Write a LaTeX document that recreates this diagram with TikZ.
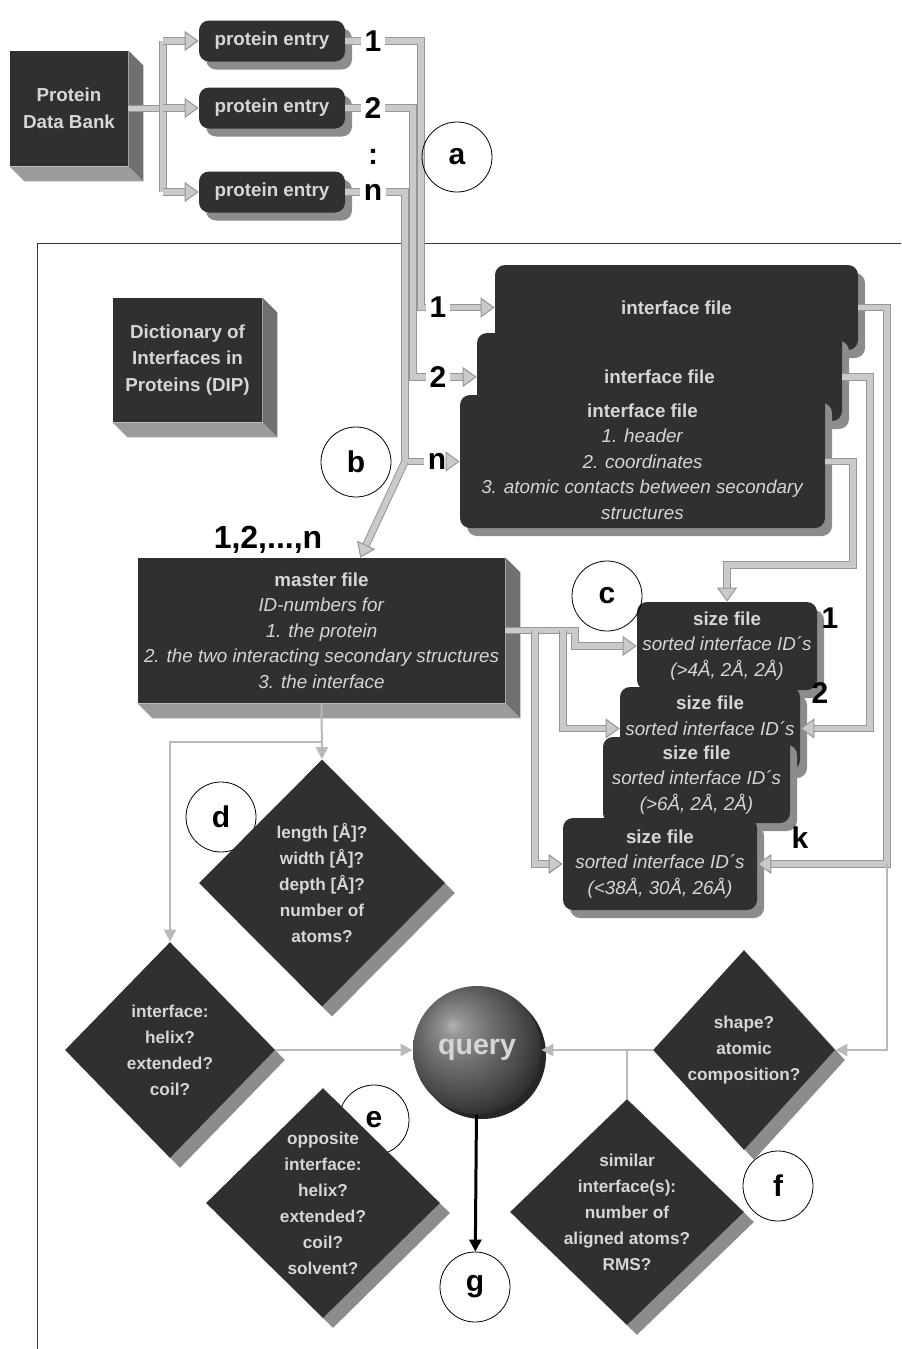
\documentclass[tikz,border=0pt]{standalone}
\usepackage{fontspec}
\setmainfont{Liberation Sans}
\usetikzlibrary{positioning, arrows.meta, calc, shapes.geometric, shadows}
\definecolor{dipDark}{RGB}{48,48,48}
\definecolor{dipText}{RGB}{214,214,214}
\definecolor{dipSide}{RGB}{140,140,140}
\definecolor{dipFace}{RGB}{112,112,112}
\definecolor{dipBase}{RGB}{155,155,155}
\definecolor{pipeFill}{RGB}{202,202,202}
\definecolor{pipeEdge}{RGB}{150,150,150}
\definecolor{linkGray}{RGB}{185,185,185}
\pgfdeclareradialshading{querysphere}{\pgfqpoint{-10bp}{10bp}}{color(0bp)=(black!30); color(4bp)=(black!42); color(14bp)=(black!58); color(24bp)=(black!72); color(32bp)=(black!85); color(50bp)=(black)}

\begin{document}
\begin{tikzpicture}[
    x=0.5pt, y=-0.5pt,
    block/.style={rectangle, fill=dipDark, text=dipText, inner sep=0pt, align=center, font=\fontsize{9.4}{13.3}\selectfont\bfseries},
    file/.style={rectangle, rounded corners=5pt, fill=dipDark, text=dipText, inner sep=0pt, align=center, font=\fontsize{9.4}{12.7}\selectfont, drop shadow={shadow xshift=3.5pt, shadow yshift=-4pt, fill=dipSide, opacity=1}},
    question/.style={diamond, fill=dipDark, text=dipText, inner sep=-8pt, align=center, font=\fontsize{8.6}{13}\selectfont\bfseries, drop shadow={shadow xshift=5pt, shadow yshift=-5pt, fill=dipSide, opacity=1}},
    tag/.style={circle, draw=black, line width=0.4pt, minimum size=35pt, inner sep=0pt, font=\fontsize{15}{15}\selectfont\bfseries},
    num/.style={inner sep=1.5pt, font=\fontsize{15}{15}\selectfont\bfseries},
    pipe/.style={draw=pipeEdge, double=pipeFill, double distance=2.8pt, line width=0.5pt},
    pipearrow/.style={pipe, -{Triangle[width=10pt, length=7pt, fill=pipeFill]}},
    link/.style={draw=linkGray, line width=1pt, -{Triangle[width=6pt, length=6pt]}},
    frame/.style={draw=black!80, line width=0.5pt}
]
\useasboundingbox[fill=white] (0,0) rectangle (901,1349);

% --- FRAME OF THE DIP PART ---
\draw[frame] (37,1349) |- (901,243);

% --- PROTEIN DATA BANK AND ENTRIES ---
\node[block, minimum width=59pt, minimum height=57.5pt] (pdb) at (69,108.5) {Protein\\Data Bank};
\node[file, minimum width=73pt, minimum height=20.5pt] (entry1) at (272,41) {\textbf{protein entry}};
\node[file, minimum width=73pt, minimum height=20.5pt] (entry2) at (272,108) {\textbf{protein entry}};
\node[file, minimum width=73pt, minimum height=20.5pt] (entry3) at (272,192) {\textbf{protein entry}};

\node[num] (num_e1) at (373,41) {1};
\node[num] (num_e2) at (373,108) {2};
\node[num] (num_dots) at (373,157) {:};
\node[num] (num_en) at (373,192) {n};

% --- DIP BLOCK ---
\node[block, minimum width=74.5pt, minimum height=62pt] (dip) at (187.5,360) {Dictionary of\\Interfaces in\\Proteins (DIP)};

% --- INTERFACE FILES ---
\node[file, minimum width=181.5pt, minimum height=42.5pt] (if1) at (676.5,307.5) {\textbf{interface file}};
\node[file, minimum width=182.5pt, minimum height=44pt] (if2) at (659.5,377) {\textbf{interface file}};
\node[file, minimum width=182.5pt, minimum height=66.5pt] (ifn) at (642.5,461.5) {\textbf{interface file}\\ \textit{1. header}\\ \textit{2. coordinates}\\ \textit{3. atomic contacts between secondary}\\ \textit{structures}};

\node[num] (num_i1) at (438,307.5) {1};
\node[num] (num_i2) at (438,377) {2};
\node[num] (num_in) at (437,461.5) {n};

% --- MASTER FILE ---
\node[block, minimum width=183.5pt, minimum height=72.5pt, font=\fontsize{9.4}{12.7}\selectfont] (master) at (321.5,630.5) {\textbf{master file}\\ \textit{ID-numbers for}\\ \textit{1. the protein}\\ \textit{2. the two interacting secondary structures}\\ \textit{3. the interface}};
\node[num, font=\fontsize{16}{16}\selectfont\bfseries] (num_all) at (268,540) {1,2,...,n};

% bevels of the blocks
\foreach \b in {pdb, dip, master} {
  \fill[dipFace] (\b.north east) -- ++(15,15) -- ($(\b.south east)+(15,15)$) -- (\b.south east) -- cycle;
  \fill[dipBase] (\b.south west) -- (\b.south east) -- ($(\b.south east)+(15,15)$) -- ($(\b.south west)+(15,15)$) -- cycle;
}

% --- SIZE FILES ---
\node[file, minimum width=90pt, minimum height=44pt] (sf1) at (727,646) {\textbf{size file}\\ \textit{sorted interface ID´s}\\ \textit{(>4Å, 2Å, 2Å)}};
\node[file, minimum width=90pt, minimum height=41.5pt] (sf2) at (710,728.5) {\textbf{size file}\\ \textit{sorted interface ID´s}\\ \phantom{x}};
\node[file, minimum width=93.5pt, minimum height=43pt] (sf3) at (696.5,780) {\textbf{size file}\\ \textit{sorted interface ID´s}\\ \textit{(>6Å, 2Å, 2Å)}};
\node[file, minimum width=97pt, minimum height=46pt] (sfk) at (660,864) {\textbf{size file}\\ \textit{sorted interface ID´s}\\ \textit{(<38Å, 30Å, 26Å)}};

\node[num] (num_s1) at (830,618) {1};
\node[num] (num_s2) at (820,693) {2};
\node[num] (num_sk) at (800,838) {k};

% --- PIPES ---
\coordinate (pdb_bus) at (163,0);
\coordinate (bus1) at (421,0);
\coordinate (bus2) at (413,0);
\coordinate (busn) at (405,0);
\coordinate (mbus1) at (575,0);
\coordinate (mbus2) at (563,0);
\coordinate (mbusk) at (535,0);
\coordinate (rbus1) at (887,0);
\coordinate (rbus2) at (870,0);
\coordinate (rbusn) at (853,565);

\draw[pipe] (pdb.east) -- (pdb.east -| pdb_bus);
\draw[pipe] (entry1.west -| pdb_bus) -- (entry3.west -| pdb_bus);
\foreach \i in {1,2,3}
  \draw[pipearrow] (entry\i.west -| pdb_bus) -- (entry\i.west);

\draw[pipe] (entry1) -- (num_e1);
\draw[pipe] (entry2) -- (num_e2);
\draw[pipe] (entry3) -- (num_en);

\draw[pipe] (num_e1) -- (num_e1 -| bus1) -- (num_i1 -| bus1) -- (num_i1);
\draw[pipe] (num_e2) -- (num_e2 -| bus2) -- (num_i2 -| bus2) -- (num_i2);
\draw[pipe] (num_en) -- (num_en -| busn) -- (num_in -| busn) -- (num_in);

\draw[pipearrow] (num_i1) -- (if1);
\draw[pipearrow] (num_i2) -- (if2);
\draw[pipearrow] (num_in) -- (ifn);
\draw[pipearrow] (num_in -| busn) -- (master.62);

\draw[pipearrow] (master.east) -| (mbus1 |- sf1.west) -- (sf1.west);
\draw[pipearrow] (master.east -| mbus2) |- (sf2.west);
\draw[pipearrow] (master.east -| mbusk) |- (sfk.west);

\draw[pipearrow] (if1.east) -| (rbus1 |- sfk.east) -- (sfk.east);
\draw[pipearrow] (if2.east) -| (rbus2 |- sf2.east) -- (sf2.east);
\draw[pipearrow] (ifn.east) -| (rbusn) -| (sf1.north);

% --- STEP TAGS ---
\node[tag] (tag_a) at (457,157) {a};
\node[tag] (tag_b) at (356,462) {b};
\node[tag] (tag_c) at (607,596) {c};
\node[tag] (tag_d) at (221,817) {d};
\node[tag] (tag_e) at (374,1120) {e};
\node[tag] (tag_f) at (778,1186) {f};
\node[tag] (tag_g) at (475,1287) {g};

% --- QUESTIONS ---
\node[question, minimum width=123pt, minimum height=123.5pt] (d_len) at (322,883) {length [Å]?\\width [Å]?\\depth [Å]?\\number of\\atoms?};
\node[question, minimum width=105pt, minimum height=108pt] (d_if) at (170,1050) {interface:\\helix?\\extended?\\coil?};
\node[question, minimum width=117pt, minimum height=115pt] (d_opp) at (323,1203) {opposite\\interface:\\helix?\\extended?\\coil?\\solvent?};
\node[question, minimum width=91pt, minimum height=100pt] (d_shape) at (744,1050) {shape?\\atomic\\composition?};
\node[question, minimum width=117pt, minimum height=113pt] (d_sim) at (627,1212) {similar\\interface(s):\\number of\\aligned atoms?\\RMS?};

\node[circle, minimum size=64pt, shading=querysphere, text=dipText, font=\fontsize{14.3}{14.3}\selectfont\bfseries, drop shadow={shadow xshift=2.5pt, shadow yshift=-2.5pt, fill=black!85, opacity=1}] (query) at (477,1050) {query};

\draw[link] (master.south) -- (d_len.north);
\draw[link] ($(master.south)+(0,39)$) -| (d_if.north);
\draw[link] (d_if.east) -- (query);
\draw[link] (d_shape.west) -- (query);
\draw[link, -] (d_sim.north) -- (d_sim.north |- query.east);
\draw[link] (rbus1 |- sfk.east) |- (d_shape.east);

\draw[-{Triangle[width=6pt, length=6pt]}, line width=1.5pt, black] (query) -- (tag_g);

\end{tikzpicture}
\end{document}
